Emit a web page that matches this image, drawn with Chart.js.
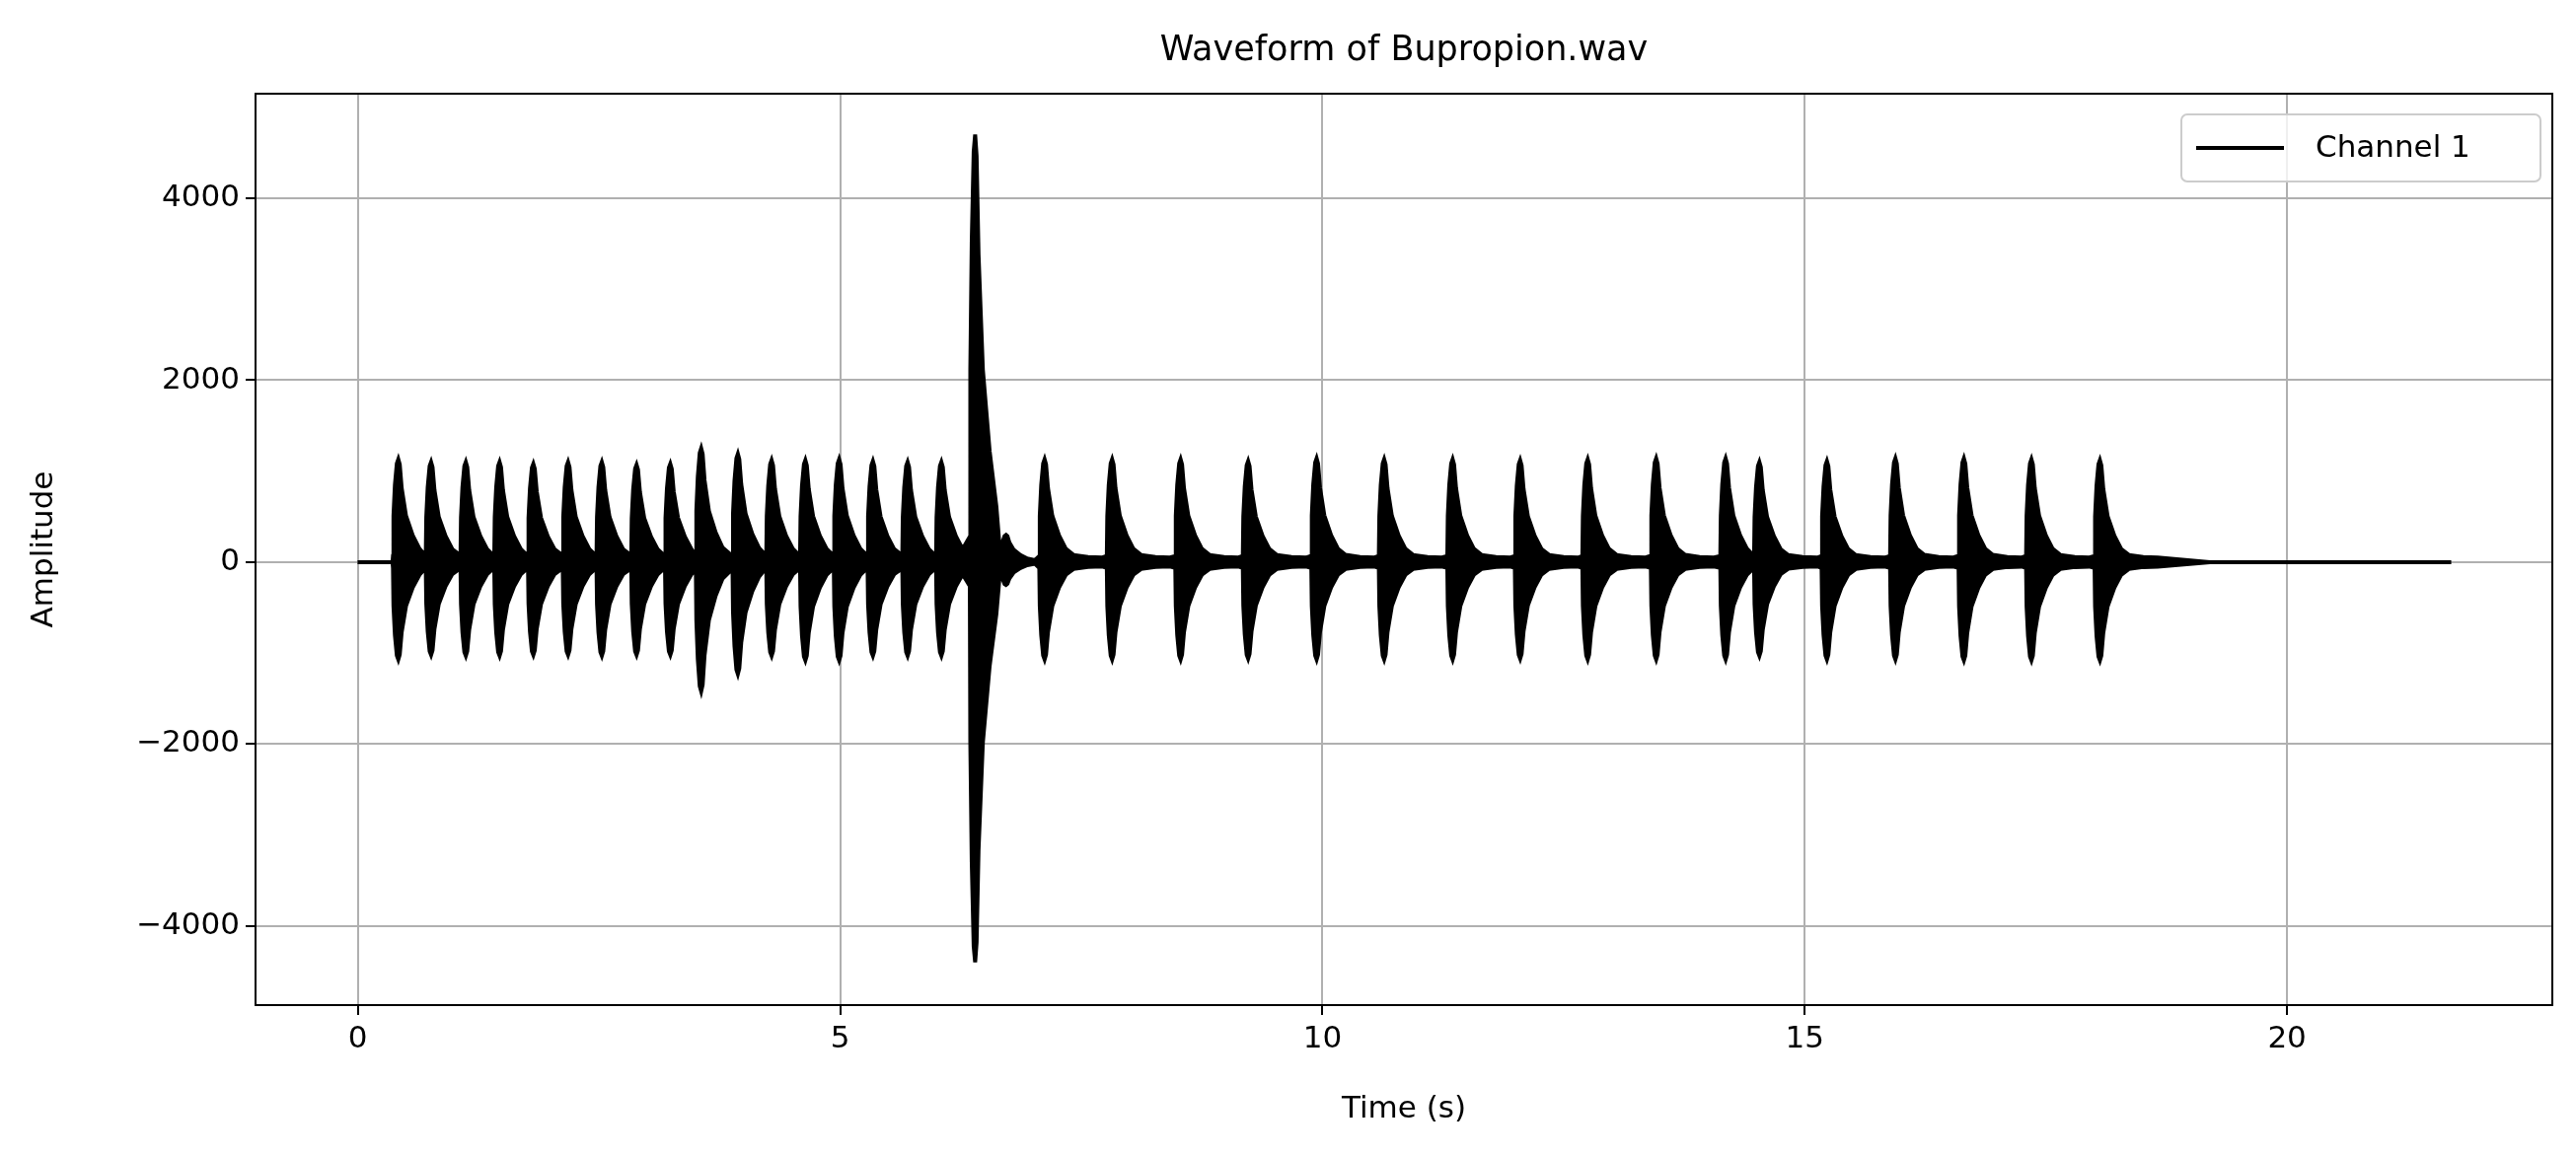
<!DOCTYPE html>
<html><head><meta charset="utf-8">
<script src="https://cdn.jsdelivr.net/npm/chart.js@4"></script>
<style>body{margin:0;background:#fff}canvas{display:block}</style></head>
<body><canvas id="c" width="2611" height="1172"></canvas>
<script>
// Burst peaks
const peakTimes = [0.42,0.76,1.12,1.47,1.82,2.18,2.53,2.89,3.24,3.56,3.94,4.29,4.64,4.99,5.34,5.70,6.05,6.40,6.72,
  7.12,7.82,8.53,9.23,9.94,10.64,11.35,12.05,12.75,13.46,14.18,14.53,15.23,15.94,16.65,17.35,18.06];
const peakUpper = [1130,1100,1100,1100,1080,1100,1100,1070,1080,1250,1190,1120,1120,1130,1110,1100,1100,4700,300,
  1130,1130,1130,1110,1140,1130,1130,1120,1130,1140,1140,1100,1110,1140,1140,1130,1120];
const peakLower = [-1070,-1020,-1030,-1030,-1020,-1020,-1030,-1020,-1020,-1420,-1230,-1030,-1080,-1080,-1030,-1030,-1030,-4400,-250,
  -1070,-1070,-1070,-1060,-1070,-1070,-1070,-1060,-1070,-1070,-1070,-1030,-1070,-1070,-1080,-1080,-1080];
// Envelope shape around each peak (seconds from peak, share of peak)
const shapeOffsets = [-0.055,-0.05,-0.035,-0.015,0,0.015,0.035,0.08,0.15,0.22,0.30,0.45,0.6];
const shapeShares  = [0.06,0.45,0.75,0.96,1,0.95,0.72,0.45,0.26,0.13,0.07,0.05,0.045];
const signalStart = 0, signalEnd = 21.7, tailEnd = 19.2;
const xTicks = [0,5,10,15,20];
const yTicks = [-4000,-2000,0,2000,4000];

function envelope(peaks){
  const pts=[{x:signalStart,y:0},{x:peakTimes[0]-0.06,y:0}];
  peakTimes.forEach((t,i)=>{
    const next = i<peakTimes.length-1 ? peakTimes[i+1]-0.055 : tailEnd;
    shapeOffsets.forEach((o,k)=>{ if(t+o<next) pts.push({x:t+o,y:peaks[i]*shapeShares[k]}); });
  });
  pts.push({x:tailEnd,y:0},{x:signalEnd,y:0});
  return pts;
}

const font='"DejaVu Sans", sans-serif';
const deco={id:'deco',
  afterDraw(ch){
    const c=ch.ctx,a=ch.chartArea;
    c.save();
    c.strokeStyle='#000';c.lineWidth=2;c.strokeRect(a.left,a.top,a.right-a.left,a.bottom-a.top);
    c.fillStyle='#000';c.textAlign='center';c.textBaseline='middle';
    c.font='35px '+font;c.fillText('Waveform of Bupropion.wav',(a.left+a.right)/2,52);
    c.font='31px '+font;c.fillText('Time (s)',(a.left+a.right)/2,1125);
    c.save();c.translate(45,(a.top+a.bottom)/2);c.rotate(-Math.PI/2);c.fillText('Amplitude',0,0);c.restore();
    // legend
    const lx=2211,ly=116,lw=364,lh=68;
    c.fillStyle='rgba(255,255,255,0.8)';c.strokeStyle='#ccc';c.lineWidth=2;
    c.beginPath();c.roundRect(lx,ly,lw,lh,6);c.fill();c.stroke();
    c.strokeStyle='#000';c.lineWidth=4;c.beginPath();c.moveTo(lx+15,ly+34);c.lineTo(lx+104,ly+34);c.stroke();
    c.fillStyle='#000';c.textAlign='left';c.font='31px '+font;c.fillText('Channel 1',lx+136,ly+35);
    c.restore();
  }};

new Chart(document.getElementById('c'),{
  type:'line',
  data:{datasets:[
    {label:'Channel 1',data:envelope(peakUpper),borderColor:'#000',borderWidth:4,pointRadius:0,tension:0,fill:false},
    {label:'lower',data:envelope(peakLower),borderColor:'#000',borderWidth:4,pointRadius:0,tension:0,fill:'-1',backgroundColor:'#000'}
  ]},
  plugins:[deco],
  options:{responsive:false,devicePixelRatio:1,animation:false,
    layout:{padding:{top:95,right:24,left:0,bottom:0}},
    plugins:{legend:{display:false},tooltip:{enabled:false}},
    scales:{
      x:{type:'linear',min:-1.06,max:22.75,
        afterBuildTicks(s){s.ticks=xTicks.map(v=>({value:v}));},
        afterFit(s){s.height=153;},
        grid:{color:'#b0b0b0',lineWidth:2,tickColor:'#000',tickLength:10,drawTicks:true},
        border:{display:false},
        ticks:{color:'#000',font:{family:font,size:31},padding:6,maxRotation:0}},
      y:{min:-4870,max:5150,
        afterBuildTicks(s){s.ticks=yTicks.map(v=>({value:v}));},
        afterFit(s){s.width=259;},
        grid:{color:'#b0b0b0',lineWidth:2,tickColor:'#000',tickLength:10},
        border:{display:false},
        ticks:{color:'#000',font:{family:font,size:31},padding:6,callback:v=>String(v).replace('-','\u2212')}}
    }}
});
</script></body></html>
